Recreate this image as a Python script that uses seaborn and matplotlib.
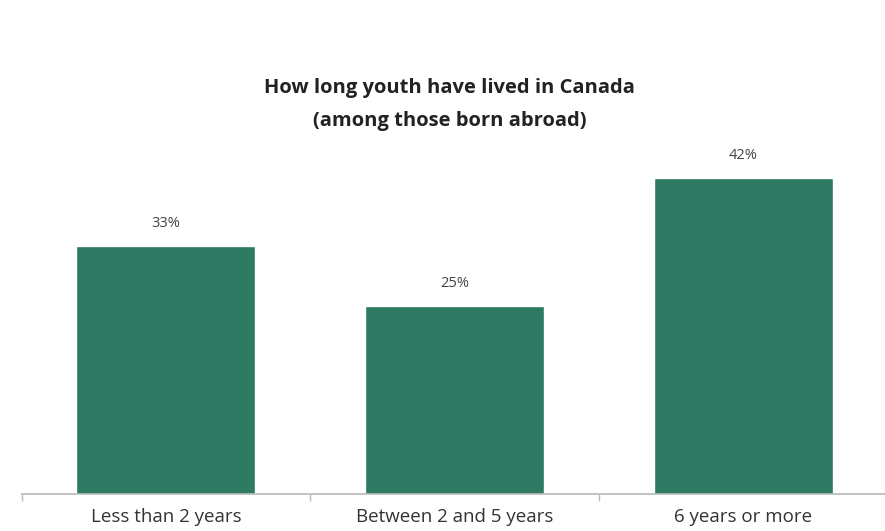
import matplotlib
matplotlib.use("Agg")
import matplotlib.pyplot as plt
import seaborn as sns
import pandas as pd

categories = ["Less than 2 years", "Between 2 and 5 years", "6 years or more"]
values = [33, 25, 42]
labels = ["33%", "25%", "42%"]

sns.set_theme(style="white")
plt.rcParams['font.family'] = ['Open Sans', 'DejaVu Sans']

df = pd.DataFrame({"cat": categories, "val": values})
fig = plt.figure(figsize=(8.85, 5.31), dpi=100)
ax = fig.add_axes([21.5/885, (531-494)/531, (887.5-21.5)/885, 376/531])
sns.barplot(data=df, x="cat", y="val", color="#2e7a62", saturation=1, width=0.62, ax=ax)
ax.set_xlim(-0.5, 2.5)
ax.set_ylim(0, 50)
for i, (v, l) in enumerate(zip(values, labels)):
    ax.text(i, v + 2.0, l, ha="center", va="bottom", fontsize=10.5, color="#444444")
ax.set_xlabel("")
ax.set_ylabel("")
ax.set_yticks([])
for s in ["top", "right", "left"]:
    ax.spines[s].set_visible(False)
ax.spines["bottom"].set_color("#bbbbbb")
ax.set_xticks([-0.5, 0.5, 1.5, 2.5], minor=True)
ax.tick_params(axis="x", which="minor", length=5, width=1, color="#bbbbbb", bottom=True)
ax.tick_params(axis="x", which="major", length=0, pad=10, labelsize=13.5, labelcolor="#333333")
fig.text(0.508, 1 - 88/531, "How long youth have lived in Canada", ha="center", va="center",
         fontsize=14.5, fontweight="bold", color="#222222")
fig.text(0.508, 1 - 121/531, "(among those born abroad)", ha="center", va="center",
         fontsize=14.5, fontweight="bold", color="#222222")
fig.savefig("out.png", dpi=100, facecolor="white")
